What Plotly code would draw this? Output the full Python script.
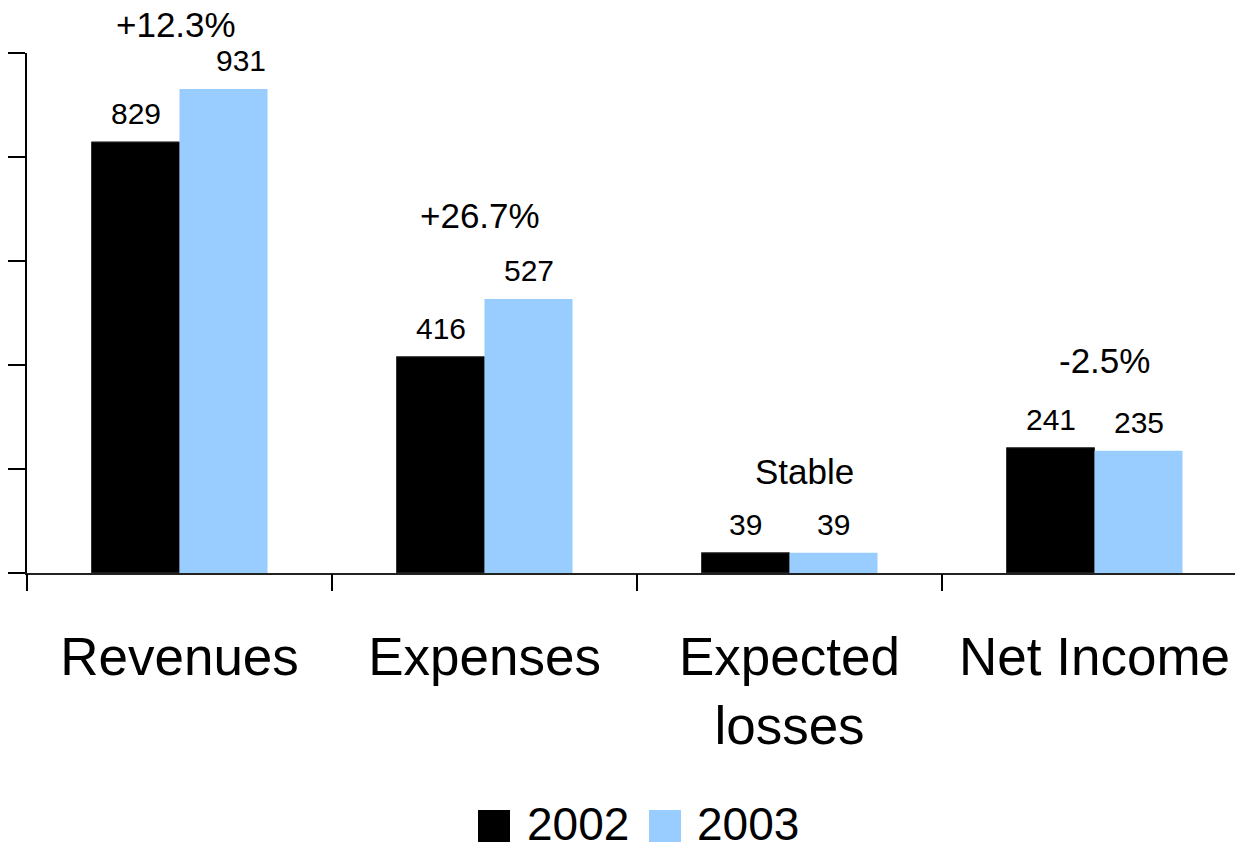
import plotly.graph_objects as go

# Financial summary, 2002 vs 2003
categories = ["Revenues", "Expenses", "Expected<br>losses", "Net Income"]
values_2002 = [829, 416, 39, 241]
values_2003 = [931, 527, 39, 235]
change_labels = ["+12.3%", "+26.7%", "Stable", "-2.5%"]
years = ["2002", "2003"]

COLOR_2002 = "#000000"
COLOR_2003 = "#99CCFF"
FONT = "Liberation Sans, Arial, sans-serif"

W, H = 1235, 851
M_L, M_R, M_T, M_B = 27, 0, 53, 278
BARGAP = 0.423

fig = go.Figure()
fig.add_trace(go.Bar(
    x=list(range(len(categories))), y=values_2002, name=years[0],
    marker=dict(color=COLOR_2002, line=dict(color="#333333", width=1)),
))
fig.add_trace(go.Bar(
    x=list(range(len(categories))), y=values_2003, name=years[1],
    marker=dict(color=COLOR_2003, line=dict(width=0)),
))

# value labels above each bar
half = (1 - BARGAP) / 4
value_nudge = {(1, 0): 17}  # keep "931" clear of the change label
annotations = []
for s, vals in enumerate([values_2002, values_2003]):
    for i, v in enumerate(vals):
        annotations.append(dict(
            x=i + (-half if s == 0 else half), y=v, xref="x", yref="y",
            text=str(v), showarrow=False, yanchor="bottom", xanchor="center",
            yshift=10, xshift=value_nudge.get((s, i), 0),
            font=dict(family=FONT, size=30, color="black"),
        ))

# change labels above each pair
change_shift = [(-4, 43), (-5, 62), (15, 60), (10, 66)]
for i, lab in enumerate(change_labels):
    top = max(values_2002[i], values_2003[i])
    dx, dy = change_shift[i]
    annotations.append(dict(
        x=i, y=top, xref="x", yref="y", text=lab, showarrow=False,
        yanchor="bottom", xanchor="center", xshift=dx, yshift=dy,
        font=dict(family=FONT, size=35, color="black"),
    ))

# legend drawn at the bottom with large swatches
plot_w = W - M_L - M_R
plot_h = H - M_T - M_B


def px_x(px):
    return (px - M_L) / plot_w


def px_y(py):
    return (H - M_B - py) / plot_h


shapes = []
for (x0, tx), col, lab in zip([(478, 525), (649, 695)], [COLOR_2002, COLOR_2003], years):
    shapes.append(dict(
        type="rect", xref="paper", yref="paper",
        x0=px_x(x0), x1=px_x(x0 + 32), y0=px_y(842), y1=px_y(810),
        fillcolor=col, line=dict(width=0),
    ))
    annotations.append(dict(
        x=px_x(tx), y=px_y(824), xref="paper", yref="paper", text=lab,
        showarrow=False, xanchor="left", yanchor="middle",
        font=dict(family=FONT, size=46, color="black"),
    ))

fig.update_layout(
    width=W, height=H,
    margin=dict(l=M_L, r=M_R, t=M_T, b=M_B, pad=0),
    paper_bgcolor="white", plot_bgcolor="white",
    barmode="group", bargap=BARGAP, bargroupgap=0,
    showlegend=False,
    font=dict(family=FONT, color="black"),
    annotations=annotations, shapes=shapes,
)
fig.update_xaxes(
    tickmode="array", tickvals=list(range(len(categories))), ticktext=categories,
    range=[-0.5, -0.5 + plot_w / 305.0],
    showline=True, linecolor="#222222", linewidth=2,
    ticks="", showgrid=False, zeroline=False,
    tickfont=dict(family=FONT, size=53, color="black"),
    ticklabelstandoff=36,
)
# boundary ticks between categories
fig.add_trace(go.Scatter(x=[None], y=[None], showlegend=False, hoverinfo="skip",
                         xaxis="x2"))
fig.update_layout(xaxis2=dict(
    overlaying="x", side="bottom", anchor="y",
    range=[-0.5, -0.5 + plot_w / 305.0],
    tickmode="array", tickvals=[-0.5, 0.5, 1.5, 2.5, 3.5], showticklabels=False,
    ticks="outside", ticklen=17, tickwidth=2, tickcolor="black",
    showline=False, showgrid=False, zeroline=False,
))
fig.update_yaxes(
    range=[0, 1000], tickmode="array", tickvals=[0, 200, 400, 600, 800, 1000],
    showticklabels=False, ticks="outside", ticklen=17, tickwidth=2, tickcolor="black",
    showline=True, linecolor="black", linewidth=2,
    showgrid=False, zeroline=False,
)

fig.write_html("out.html")
